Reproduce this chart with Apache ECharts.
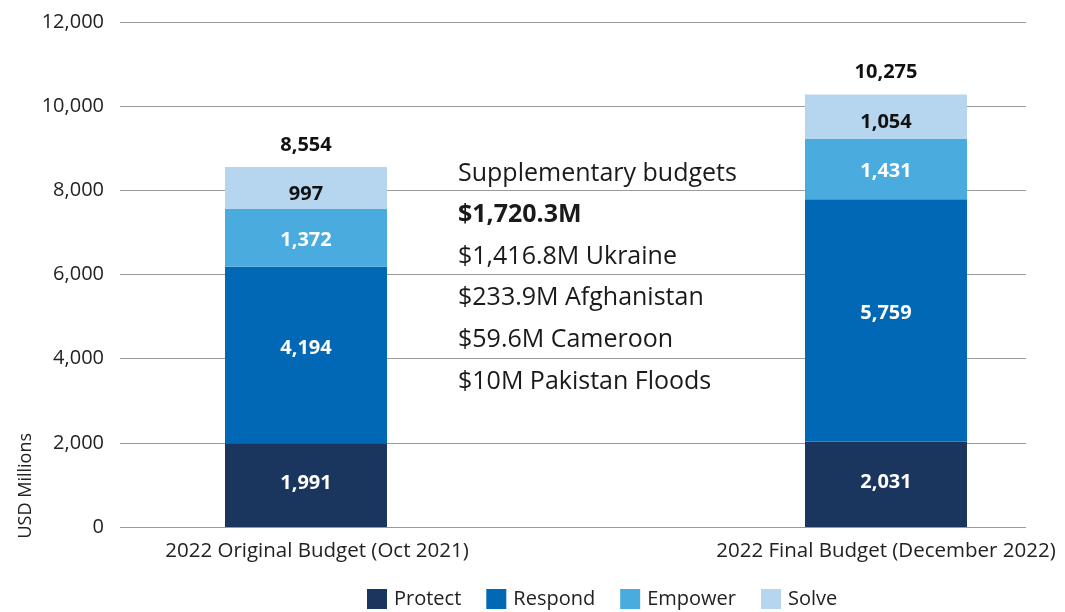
<!DOCTYPE html>
<html>
<head>
<meta charset="utf-8">
<script src="https://cdn.jsdelivr.net/npm/echarts@6/dist/echarts.min.js"></script>
<style>
  html, body { margin: 0; padding: 0; background: #fff; }
  #main { width: 1065px; height: 612px; }
</style>
</head>
<body>
<div id="main"></div>
<script>
var categories = ['2022 Original Budget (Oct 2021)', '2022 Final Budget (December 2022)'];
var protect = [1991, 2031];
var respond = [4194, 5759];
var empower = [1372, 1431];
var solve = [997, 1054];
var totals = [8554, 10275];
var noteLines = [
    'Supplementary budgets',
    '$1,720.3M',
    '$1,416.8M Ukraine',
    '$233.9M Afghanistan',
    '$59.6M Cameroon',
    '$10M Pakistan Floods'
];

var FONT = 'Open Sans';
var chart = echarts.init(document.getElementById('main'));

function fmt(v) {
    return Number(v).toLocaleString('en-US');
}

function barLabel(color, dy) {
    return {
        show: true,
        position: 'inside',
        offset: [0, dy],
        color: color,
        fontFamily: FONT,
        fontWeight: 'bold',
        fontSize: 20,
        formatter: function (p) { return fmt(p.value); }
    };
}

var noteGraphics = noteLines.map(function (t, i) {
    return {
        type: 'text',
        left: 458,
        top: 172 + i * 41.6 - 11,
        style: {
            text: t,
            fontFamily: FONT,
            fontSize: 25,
            fontWeight: i === 1 ? 'bold' : 'normal',
            fill: '#1a1a1a'
        }
    };
});

var option = {
    animation: false,
    textStyle: { fontFamily: FONT },
    color: ['#1a365e', '#0068b4', '#4aabdf', '#b6d6f0'],
    grid: [
        { left: 120, right: 39, top: 22, bottom: 85 },
        { left: 306, right: 179, top: 22, bottom: 85 }
    ],
    legend: {
        left: 367,
        top: 589,
        icon: 'rect',
        itemWidth: 20,
        itemHeight: 20,
        itemGap: 25,
        padding: 0,
        data: ['Protect', 'Respond', 'Empower', 'Solve'],
        textStyle: { fontFamily: FONT, fontSize: 20, color: '#222', padding: [0, 0, 0, 2] }
    },
    xAxis: [
        { type: 'category', gridIndex: 0, data: [''], show: false },
        {
            type: 'category',
            gridIndex: 1,
            data: categories,
            boundaryGap: false,
            axisLine: { show: false },
            axisTick: { show: false },
            axisLabel: {
                fontFamily: FONT, fontSize: 20.5, color: '#222', margin: 14,
                formatter: function (v, i) { return i === 0 ? '{a|' + v + '}' : v; },
                rich: { a: { fontFamily: FONT, fontSize: 20.5, color: '#222', padding: [0, 0, 0, 22] } }
            }
        }
    ],
    yAxis: [
        {
            type: 'value',
            gridIndex: 0,
            min: 0,
            max: 12000,
            interval: 2000,
            axisLine: { show: false },
            axisTick: { show: false },
            axisLabel: {
                fontFamily: FONT,
                fontSize: 20,
                color: '#222',
                margin: 16,
                formatter: function (v) { return fmt(v); }
            },
            splitLine: { lineStyle: { color: '#9a9a9a', width: 1 } }
        },
        { type: 'value', gridIndex: 1, min: 0, max: 12000, interval: 2000, show: false, splitLine: { show: false } }
    ],
    graphic: noteGraphics.concat([{
        type: 'text',
        left: 17,
        top: 433,
        rotation: Math.PI / 2,
        style: {
            text: 'USD Millions',
            fontFamily: FONT,
            fontSize: 18,
            fill: '#222'
        }
    }]),
    series: [
        { name: 'Protect', type: 'bar', stack: 'b', xAxisIndex: 1, yAxisIndex: 1, barWidth: 162, data: protect, label: barLabel('#fff', -2) },
        { name: 'Respond', type: 'bar', stack: 'b', xAxisIndex: 1, yAxisIndex: 1, barWidth: 162, data: respond, label: barLabel('#fff', -7) },
        { name: 'Empower', type: 'bar', stack: 'b', xAxisIndex: 1, yAxisIndex: 1, barWidth: 162, data: empower, label: barLabel('#fff', 2) },
        { name: 'Solve', type: 'bar', stack: 'b', xAxisIndex: 1, yAxisIndex: 1, barWidth: 162, data: solve, label: barLabel('#111', 6) },
        {
            name: 'Total', type: 'bar', stack: 'b', xAxisIndex: 1, yAxisIndex: 1, barWidth: 162,
            data: [0, 0],
            itemStyle: { color: 'transparent' },
            label: {
                show: true,
                position: 'top',
                distance: 12,
                color: '#111',
                fontFamily: FONT,
                fontWeight: 'bold',
                fontSize: 20,
                formatter: function (p) { return fmt(totals[p.dataIndex]); }
            }
        }
    ]
};

chart.setOption(option);
</script>
</body>
</html>
